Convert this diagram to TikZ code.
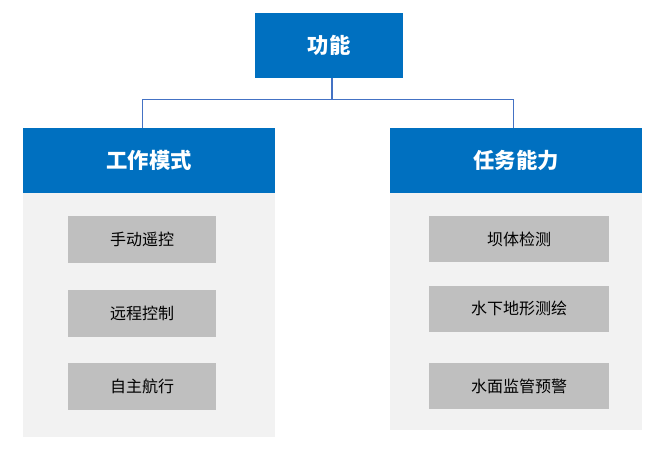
\documentclass[tikz,border=0pt]{standalone}
\usepackage{fontspec}
\setmainfont{Noto Sans CJK SC}
\usetikzlibrary{positioning}

\definecolor{headblue}{HTML}{0070C0}
\definecolor{panelgray}{HTML}{F2F2F2}
\definecolor{itemgray}{HTML}{BFBFBF}
\definecolor{linkblue}{HTML}{4472C4}

\begin{document}
\begin{tikzpicture}[x=0.75pt, y=-0.75pt,
                    headnode/.style={fill=headblue, text=white, font=\fontsize{16}{19}\selectfont\bfseries, inner sep=0pt, minimum height=48.75pt},
                    panelnode/.style={fill=panelgray, inner sep=0pt, minimum width=189pt},
                    itemnode/.style={fill=itemgray, text=black, font=\fontsize{12}{14}\selectfont, inner sep=0pt, minimum height=35pt},
                    link/.style={draw=linkblue, line width=0.9pt}]
    \useasboundingbox (0,0) rectangle (672,461);
    % panels
    \node[panelnode, minimum height=183pt, anchor=north west] (lpanel) at (23,193) {};
    \node[panelnode, minimum height=177.75pt, anchor=north west] (rpanel) at (390,193) {};
    % nodes
    \node[headnode, minimum width=111pt] (func) at (329,45) {功能};
    \node[headnode, minimum width=189pt, anchor=north west] (mode) at (23,128) {工作模式};
    \node[headnode, minimum width=189pt, anchor=north west] (task) at (390,128) {任务能力};
    \node[itemnode, minimum width=111pt] (manual) at (142,239.5) {手动遥控};
    \node[itemnode, minimum width=111pt] (remote) [below=20pt of manual] {远程控制};
    \node[itemnode, minimum width=111pt] (auto)   [below=19.5pt of remote] {自主航行};
    \node[itemnode, minimum width=135pt] (dam)    at (519,239) {坝体检测};
    \node[itemnode, minimum width=135pt] (survey) [below=17pt of dam] {水下地形测绘};
    \node[itemnode, minimum width=135pt] (water)  [below=22.5pt of survey] {水面监管预警};
    % lines
    \draw[link] ([xshift=2.25pt]func.south) -- ++(0,22) -| ([xshift=-5.25pt]mode.north);
    \draw[link] ([xshift=2.25pt]func.south) -- ++(0,22) -| ([xshift=-2.25pt]task.north);
\end{tikzpicture}
\end{document}
